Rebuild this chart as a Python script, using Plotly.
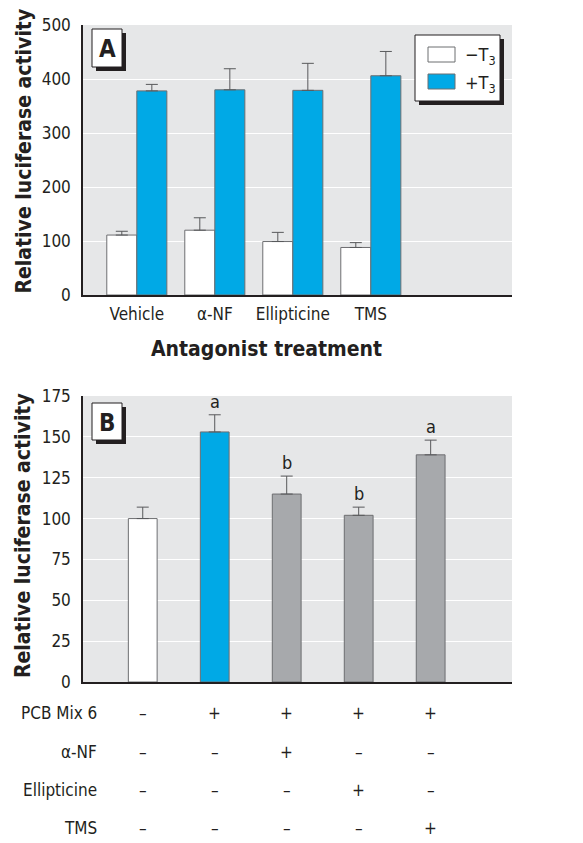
import plotly.graph_objects as go

# ---------------- data ----------------
treatments_a = ["Vehicle", "α-NF", "Ellipticine", "TMS"]
minus_t3 = [111, 120, 99, 88]
minus_t3_err = [7, 23, 17, 9]
plus_t3 = [378, 380, 379, 406]
plus_t3_err = [12, 39, 50, 45]

conditions_b = [0, 1, 2, 3, 4]
values_b = [100, 153, 115, 102, 139]
errors_b = [7, 10.5, 11, 5, 9]
letters_b = ["", "a", "b", "b", "a"]

row_labels = ["PCB Mix 6", "α-NF", "Ellipticine", "TMS"]
row_pcb = ["–", "+", "+", "+", "+"]
row_anf = ["–", "–", "+", "–", "–"]
row_ell = ["–", "–", "–", "+", "–"]
row_tms = ["–", "–", "–", "–", "+"]

# ---------------- style ----------------
OFF = 8                      # page body margin of the browser
W, H = 583 - OFF, 843 - OFF  # figure fits inside the window
BLUE = "#00a9e6"
GRAY = "#a7a9ac"
BG = "#e6e7e8"
EDGE = "#6d6e71"
DARK = "#231f20"
FONT = "DejaVu Sans Condensed, Liberation Sans Narrow, sans-serif"
bar_colors_b = ["white", BLUE, GRAY, GRAY, GRAY]


def px_x(p):
    return (p - OFF) / W


def px_y(p):
    return 1 - (p - OFF) / H


fig = go.Figure()

err_style = dict(type="data", symmetric=False, color="#58595b", thickness=1, width=6)

fig.add_trace(go.Bar(
    x=treatments_a, y=minus_t3, name="−T3",
    marker=dict(color="white", line=dict(color=EDGE, width=1)),
    error_y=dict(array=minus_t3_err, arrayminus=[0] * len(minus_t3), **err_style),
    xaxis="x", yaxis="y", showlegend=False,
))
fig.add_trace(go.Bar(
    x=treatments_a, y=plus_t3, name="+T3",
    marker=dict(color=BLUE, line=dict(color=EDGE, width=1)),
    error_y=dict(array=plus_t3_err, arrayminus=[0] * len(plus_t3), **err_style),
    xaxis="x", yaxis="y", showlegend=False,
))
fig.add_trace(go.Bar(
    x=conditions_b, y=values_b, width=0.4,
    marker=dict(color=bar_colors_b, line=dict(color=EDGE, width=1)),
    error_y=dict(array=errors_b, arrayminus=[0] * len(values_b), **err_style),
    xaxis="x2", yaxis="y2", showlegend=False,
))

# plot areas in window pixels
LEFT, RIGHT = 83, 512
A_TOP, A_BOT = 25, 295
B_TOP, B_BOT = 396, 682

tickfont = dict(family=FONT, size=17, color=DARK)
common_y = dict(showgrid=True, gridcolor="white", gridwidth=1.2, showline=True,
                linecolor=DARK, linewidth=1.5, ticks="", tickfont=tickfont,
                ticklabelstandoff=7, zeroline=False, fixedrange=True, automargin=False)
common_x = dict(showline=True, linecolor=DARK, linewidth=1.5, ticks="",
                showgrid=False, zeroline=False, fixedrange=True, automargin=False)

fig.update_layout(
    width=W, height=H,
    margin=dict(l=0, r=0, t=0, b=0),
    paper_bgcolor="white",
    plot_bgcolor=BG,
    barmode="group",
    bargap=0.23,
    bargroupgap=0,
    font=dict(family=FONT, color=DARK),
    xaxis=dict(domain=[px_x(LEFT), px_x(RIGHT)], anchor="y", range=[-0.69, 4.81],
               tickfont=tickfont, ticklabelstandoff=3, **common_x),
    yaxis=dict(domain=[px_y(A_BOT), px_y(A_TOP)], anchor="x", range=[0, 500],
               dtick=100, **common_y),
    xaxis2=dict(domain=[px_x(LEFT), px_x(RIGHT)], anchor="y2", range=[-0.83, 5.13],
                showticklabels=False, **common_x),
    yaxis2=dict(domain=[px_y(B_BOT), px_y(B_TOP)], anchor="x2", range=[0, 175],
                dtick=25, **common_y),
)

ann = []
shapes = []

# y-axis titles
for (top, bot) in [(10, 293), (395, 677)]:
    ann.append(dict(text="<b>Relative luciferase activity</b>", textangle=-90,
                    xref="paper", yref="paper", x=px_x(23), y=px_y((top + bot) / 2),
                    xanchor="center", yanchor="middle", showarrow=False,
                    font=dict(family=FONT, size=21, color=DARK)))

# x title of A
ann.append(dict(text="<b>Antagonist treatment</b>", xref="paper", yref="paper",
                x=px_x(266), y=px_y(349), xanchor="center", yanchor="middle",
                showarrow=False, font=dict(family=FONT, size=21, color=DARK)))


# panel letter boxes
def label_box(x0, y0, x1, y1, letter):
    shapes.append(dict(type="rect", xref="paper", yref="paper",
                       x0=px_x(x0 + 4), x1=px_x(x1 + 4), y0=px_y(y1 + 4), y1=px_y(y0 + 4),
                       fillcolor=DARK, line=dict(width=0), layer="above"))
    shapes.append(dict(type="rect", xref="paper", yref="paper",
                       x0=px_x(x0), x1=px_x(x1), y0=px_y(y1), y1=px_y(y0),
                       fillcolor="white", line=dict(color=DARK, width=1), layer="above"))
    ann.append(dict(text=f"<b>{letter}</b>", xref="paper", yref="paper",
                    x=px_x((x0 + x1) / 2), y=px_y((y0 + y1) / 2 + 1),
                    xanchor="center", yanchor="middle", showarrow=False,
                    font=dict(family=FONT, size=24, color=DARK)))


label_box(92, 29, 122, 67, "A")
label_box(92, 403, 122, 440, "B")

# custom legend for panel A
lx0, ly0, lx1, ly1 = 415, 35, 500, 101
shapes.append(dict(type="rect", xref="paper", yref="paper",
                   x0=px_x(lx0 + 4), x1=px_x(lx1 + 4), y0=px_y(ly1 + 4), y1=px_y(ly0 + 4),
                   fillcolor=DARK, line=dict(width=0), layer="above"))
shapes.append(dict(type="rect", xref="paper", yref="paper",
                   x0=px_x(lx0), x1=px_x(lx1), y0=px_y(ly1), y1=px_y(ly0),
                   fillcolor="white", line=dict(color=DARK, width=1), layer="above"))
for (name, color, yc) in [("−T<sub>3</sub>", "white", 54.5), ("+T<sub>3</sub>", BLUE, 81.5)]:
    shapes.append(dict(type="rect", xref="paper", yref="paper",
                       x0=px_x(428), x1=px_x(455), y0=px_y(yc + 7.5), y1=px_y(yc - 7.5),
                       fillcolor=color, line=dict(color=EDGE, width=1), layer="above"))
    ann.append(dict(text=name, xref="paper", yref="paper", x=px_x(463), y=px_y(yc + 2),
                    xanchor="left", yanchor="middle", showarrow=False,
                    font=dict(family=FONT, size=18, color=DARK)))

# significance letters in panel B
for xi, v, e, t in zip(conditions_b, values_b, errors_b, letters_b):
    if t:
        ann.append(dict(text=t, xref="x2", yref="y2", x=xi, y=v + e,
                        xanchor="center", yanchor="bottom", yshift=1, showarrow=False,
                        font=dict(family=FONT, size=18, color=DARK)))

# condition table under panel B
rows = [row_pcb, row_anf, row_ell, row_tms]
row_y = [713, 752, 790, 828]
for label, row, yp in zip(row_labels, rows, row_y):
    ann.append(dict(text=label, xref="paper", yref="paper", x=px_x(99), y=px_y(yp),
                    xanchor="right", yanchor="middle", showarrow=False,
                    font=dict(family=FONT, size=17, color=DARK)))
    for xi, sym in zip(conditions_b, row):
        ann.append(dict(text=sym, xref="x2", yref="paper", x=xi, y=px_y(yp),
                        xanchor="center", yanchor="middle", showarrow=False,
                        font=dict(family=FONT, size=17, color=DARK)))

fig.update_layout(annotations=ann, shapes=shapes)
fig.write_html("out.html")
